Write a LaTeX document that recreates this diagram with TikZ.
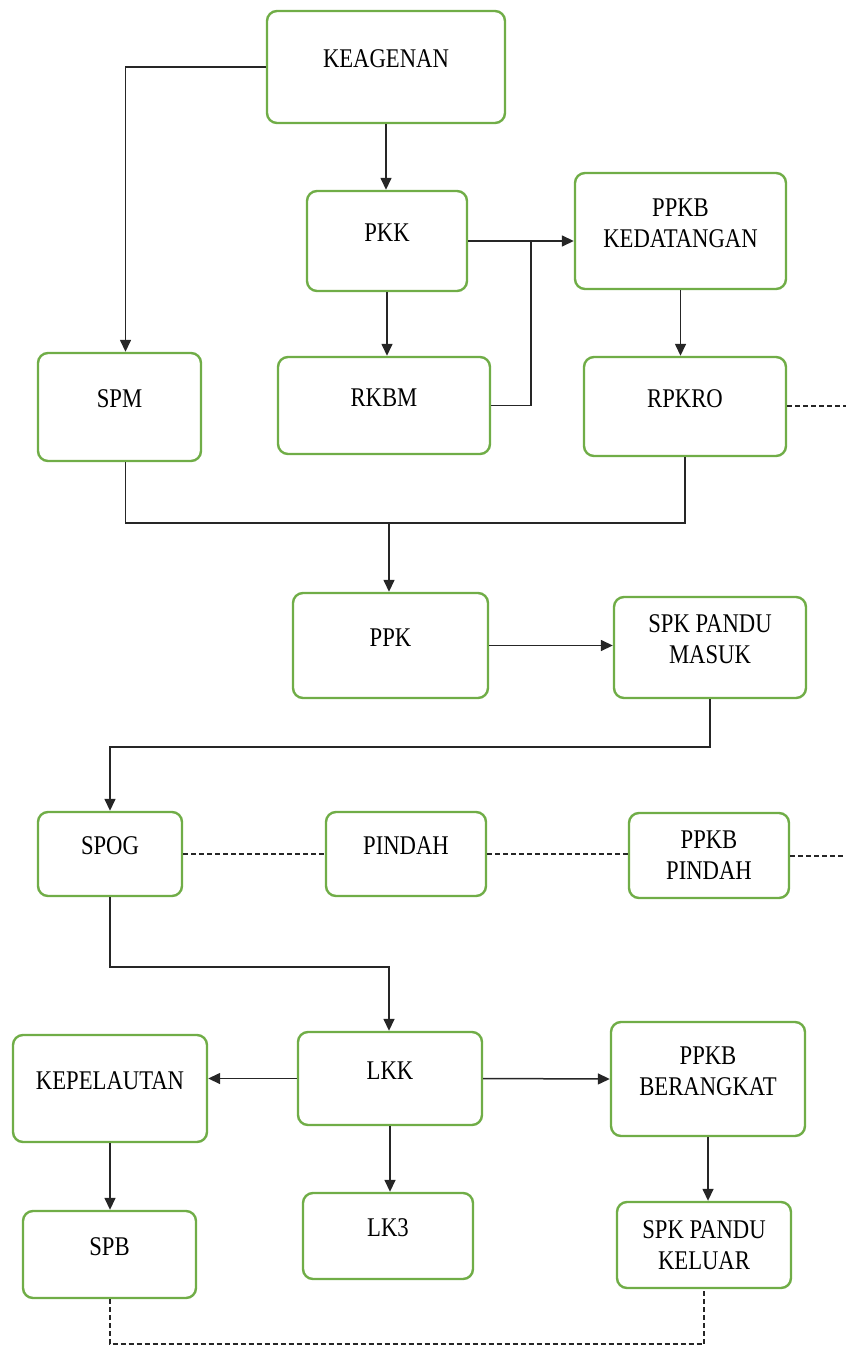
\documentclass[tikz,border=0pt]{standalone}
\usepackage{fontspec}
\newfontfamily\hurufkotak{Liberation Serif}
\usetikzlibrary{arrows.meta}
\definecolor{hijau}{RGB}{112,173,71}

\begin{document}
\begin{tikzpicture}[x=0.5pt, y=-0.5pt,
  kotak/.style={draw=hijau, line width=1.2pt, rounded corners=5pt, fill=white},
  teks/.style={font=\hurufkotak\fontsize{13.5}{15.5}\selectfont, align=center, xscale=0.84, transform shape, yshift=4pt},
  tekstengah/.style={font=\hurufkotak\fontsize{13.5}{15.5}\selectfont, align=center, xscale=0.84, transform shape},
  garis/.style={draw=black!85, line width=0.75pt},
  panah/.style={garis, -{Triangle[length=6pt,width=5.5pt]}},
  putus/.style={draw=black!85, line width=1pt, dash pattern=on 2.5pt off 1.5pt}]
  \useasboundingbox (0,0) rectangle (846,1347);
  % kedatangan kapal
  \node[kotak, minimum width=119pt, minimum height=56pt, label={[teks]center:KEAGENAN}] (keagenan) at (386,67) {};
  \node[kotak, minimum width=80pt, minimum height=50pt, label={[teks]center:PKK}] (pkk) at (387,241) {};
  \node[kotak, minimum width=105.5pt, minimum height=58pt, label={[teks]center:PPKB\\KEDATANGAN}] (ppkbdatang) at (680.5,231) {};
  \node[kotak, minimum width=81.5pt, minimum height=54pt, label={[teks]center:SPM}] (spm) at (119.5,407) {};
  \node[kotak, minimum width=106pt, minimum height=48.5pt, label={[teks]center:RKBM}] (rkbm) at (384,405.5) {};
  \node[kotak, minimum width=101pt, minimum height=49.5pt, label={[teks]center:RPKRO}] (rpkro) at (685,406.5) {};
  \node[kotak, minimum width=97.5pt, minimum height=52.5pt, label={[teks]center:PPK}] (ppk) at (390.5,645.5) {};
  \node[kotak, minimum width=96pt, minimum height=50.5pt, label={[teks]center:SPK PANDU\\MASUK}] (spkmasuk) at (710,647.5) {};
  % olah gerak
  \node[kotak, minimum width=72pt, minimum height=42pt, label={[teks]center:SPOG}] (spog) at (110,854) {};
  \node[kotak, minimum width=80pt, minimum height=42pt, label={[teks]center:PINDAH}] (pindah) at (406,854) {};
  \node[kotak, minimum width=80pt, minimum height=42.5pt, label={[tekstengah]center:PPKB\\PINDAH}] (ppkbpindah) at (709,855.5) {};
  % keberangkatan kapal
  \node[kotak, minimum width=92pt, minimum height=46.5pt, label={[teks]center:LKK}] (lkk) at (390,1078.5) {};
  \node[kotak, minimum width=97pt, minimum height=53.5pt, label={[teks]center:KEPELAUTAN}] (kepelautan) at (110,1088.5) {};
  \node[kotak, minimum width=97pt, minimum height=57pt, label={[teks]center:PPKB\\BERANGKAT}] (ppkbberangkat) at (708,1079) {};
  \node[kotak, minimum width=85pt, minimum height=43pt, label={[teks]center:LK3}] (lk3) at (388,1236) {};
  \node[kotak, minimum width=86.5pt, minimum height=43.5pt, label={[teks]center:SPB}] (spb) at (109.5,1254.5) {};
  \node[kotak, minimum width=87pt, minimum height=43pt, label={[tekstengah]center:SPK PANDU\\KELUAR}] (spkkeluar) at (704,1245) {};
  % titik bantu
  \coordinate (cabang) at (531,242);
  \coordinate (gabung) at (389,523);
  \coordinate (gabung2) at (389,967);
  \coordinate (ujung1) at (846,404);
  \coordinate (ujung2) at (846,854);
  % alur
  \draw[panah] (keagenan.west) -| ([xshift=3pt]spm.north);
  \draw[panah] (keagenan.south) -- (keagenan.south |- pkk.north);
  \draw[panah] (pkk.south) -- (pkk.south |- rkbm.north);
  \draw[panah] (pkk.east) -- (pkk.east -| ppkbdatang.west);
  \draw[garis] (rkbm.east) -| (cabang);
  \draw[panah] (ppkbdatang.south) -- (ppkbdatang.south |- rpkro.north);
  \draw[putus] (rpkro.east) -- (rpkro.east -| ujung1);
  \draw[garis] ([xshift=3pt]spm.south) |- (gabung) -| (rpkro.south);
  \draw[panah] (gabung) -- (gabung |- ppk.north);
  \draw[panah] (ppk.east) -- (ppk.east -| spkmasuk.west);
  \draw[panah] (spkmasuk.south) -- ++(0,48) -| (spog.north);
  \draw[putus] (spog.east) -- (pindah.west);
  \draw[putus] (pindah.east) -- (pindah.east -| ppkbpindah.west);
  \draw[putus] (ppkbpindah.east) -- (ppkbpindah.east -| ujung2);
  \draw[panah] (spog.south) |- (gabung2) -- (gabung2 |- lkk.north);
  \draw[panah] (lkk.west) -- (lkk.west -| kepelautan.east);
  \draw[panah] (lkk.east) -- (ppkbberangkat.west);
  \draw[panah] (lkk.south) -- (lkk.south |- lk3.north);
  \draw[panah] (kepelautan.south) -- (kepelautan.south |- spb.north);
  \draw[panah] (ppkbberangkat.south) -- (ppkbberangkat.south |- spkkeluar.north);
  \draw[putus] (spb.south) -- ++(0,45) -| (spkkeluar.south);
\end{tikzpicture}
\end{document}
